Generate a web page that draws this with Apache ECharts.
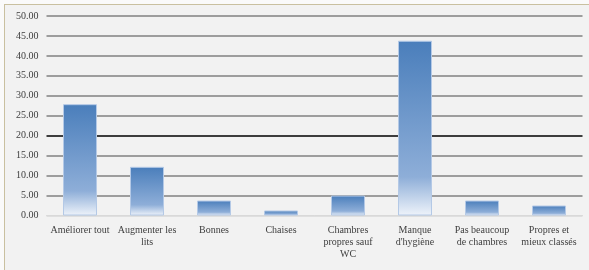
<!DOCTYPE html>
<html>
<head>
<meta charset="utf-8">
<script src="https://cdn.jsdelivr.net/npm/echarts@6/dist/echarts.min.js"></script>
<style>
  html, body { margin: 0; padding: 0; background: #fafafa; }
  .frame {
    position: absolute; left: 4px; top: 4px; width: 600px; height: 280px;
    border-left: 1px solid #c9c0a0; border-top: 1px solid #c9c0a0;
    background: #f2f2f2;
  }
  #chart { position: absolute; left: 0; top: 0; width: 589px; height: 270px; }
</style>
</head>
<body>
<div class="frame"></div>
<div id="chart"></div>
<script>
const categories = ['Améliorer tout', 'Augmenter les lits', 'Bonnes', 'Chaises',
  'Chambres propres sauf WC', "Manque d'hygiène", 'Pas beaucoup de chambres', 'Propres et mieux classés']
const labels = ['Améliorer tout', 'Augmenter les\nlits', 'Bonnes', 'Chaises',
  'Chambres\npropres sauf\nWC', "Manque\nd'hygiène", 'Pas beaucoup\nde chambres', 'Propres et\nmieux classés']
const values = [27.9, 12.2, 3.75, 1.25, 5.0, 43.8, 3.75, 2.5]

const chart = echarts.init(document.getElementById('chart'))

// couleurs des lignes de grille (la ligne 20.00 est noire)
const gridColors = ['#d9d9d9', '#808080', '#808080', '#808080', '#000', '#808080',
  '#808080', '#808080', '#808080', '#808080', '#808080']

const option = {
  animation: false,
  grid: { left: 46.5, right: 6.5, top: 16, bottom: 54.5 },
  xAxis: {
    type: 'category',
    data: categories,
    axisLine: { show: true, lineStyle: { color: '#d9d9d9', width: 1 } },
    axisTick: { show: false },
    axisLabel: {
      interval: 0,
      margin: 9,
      fontFamily: 'Liberation Serif',
      fontSize: 10,
      lineHeight: 12,
      color: '#404040',
      formatter: (v, i) => labels[i]
    }
  },
  yAxis: {
    type: 'value',
    min: 0,
    max: 50,
    interval: 5,
    axisLine: { show: false },
    axisTick: { show: false },
    axisLabel: {
      margin: 8,
      fontFamily: 'Liberation Serif',
      fontSize: 10,
      color: '#404040',
      formatter: v => v.toFixed(2)
    },
    splitLine: { lineStyle: { color: gridColors, width: 1.5 } }
  },
  series: [
    {
      type: 'bar',
      data: values,
      barWidth: 34,
      itemStyle: {
        borderColor: '#b4c9e6',
        borderWidth: 1,
        color: new echarts.graphic.LinearGradient(0, 0, 0, 1, [
          { offset: 0, color: '#4a7ebb' },
          { offset: 0.78, color: '#8eaed8' },
          { offset: 1, color: '#eef3fa' }
        ])
      }
    }
  ]
}
chart.setOption(option)
</script>
</body>
</html>
